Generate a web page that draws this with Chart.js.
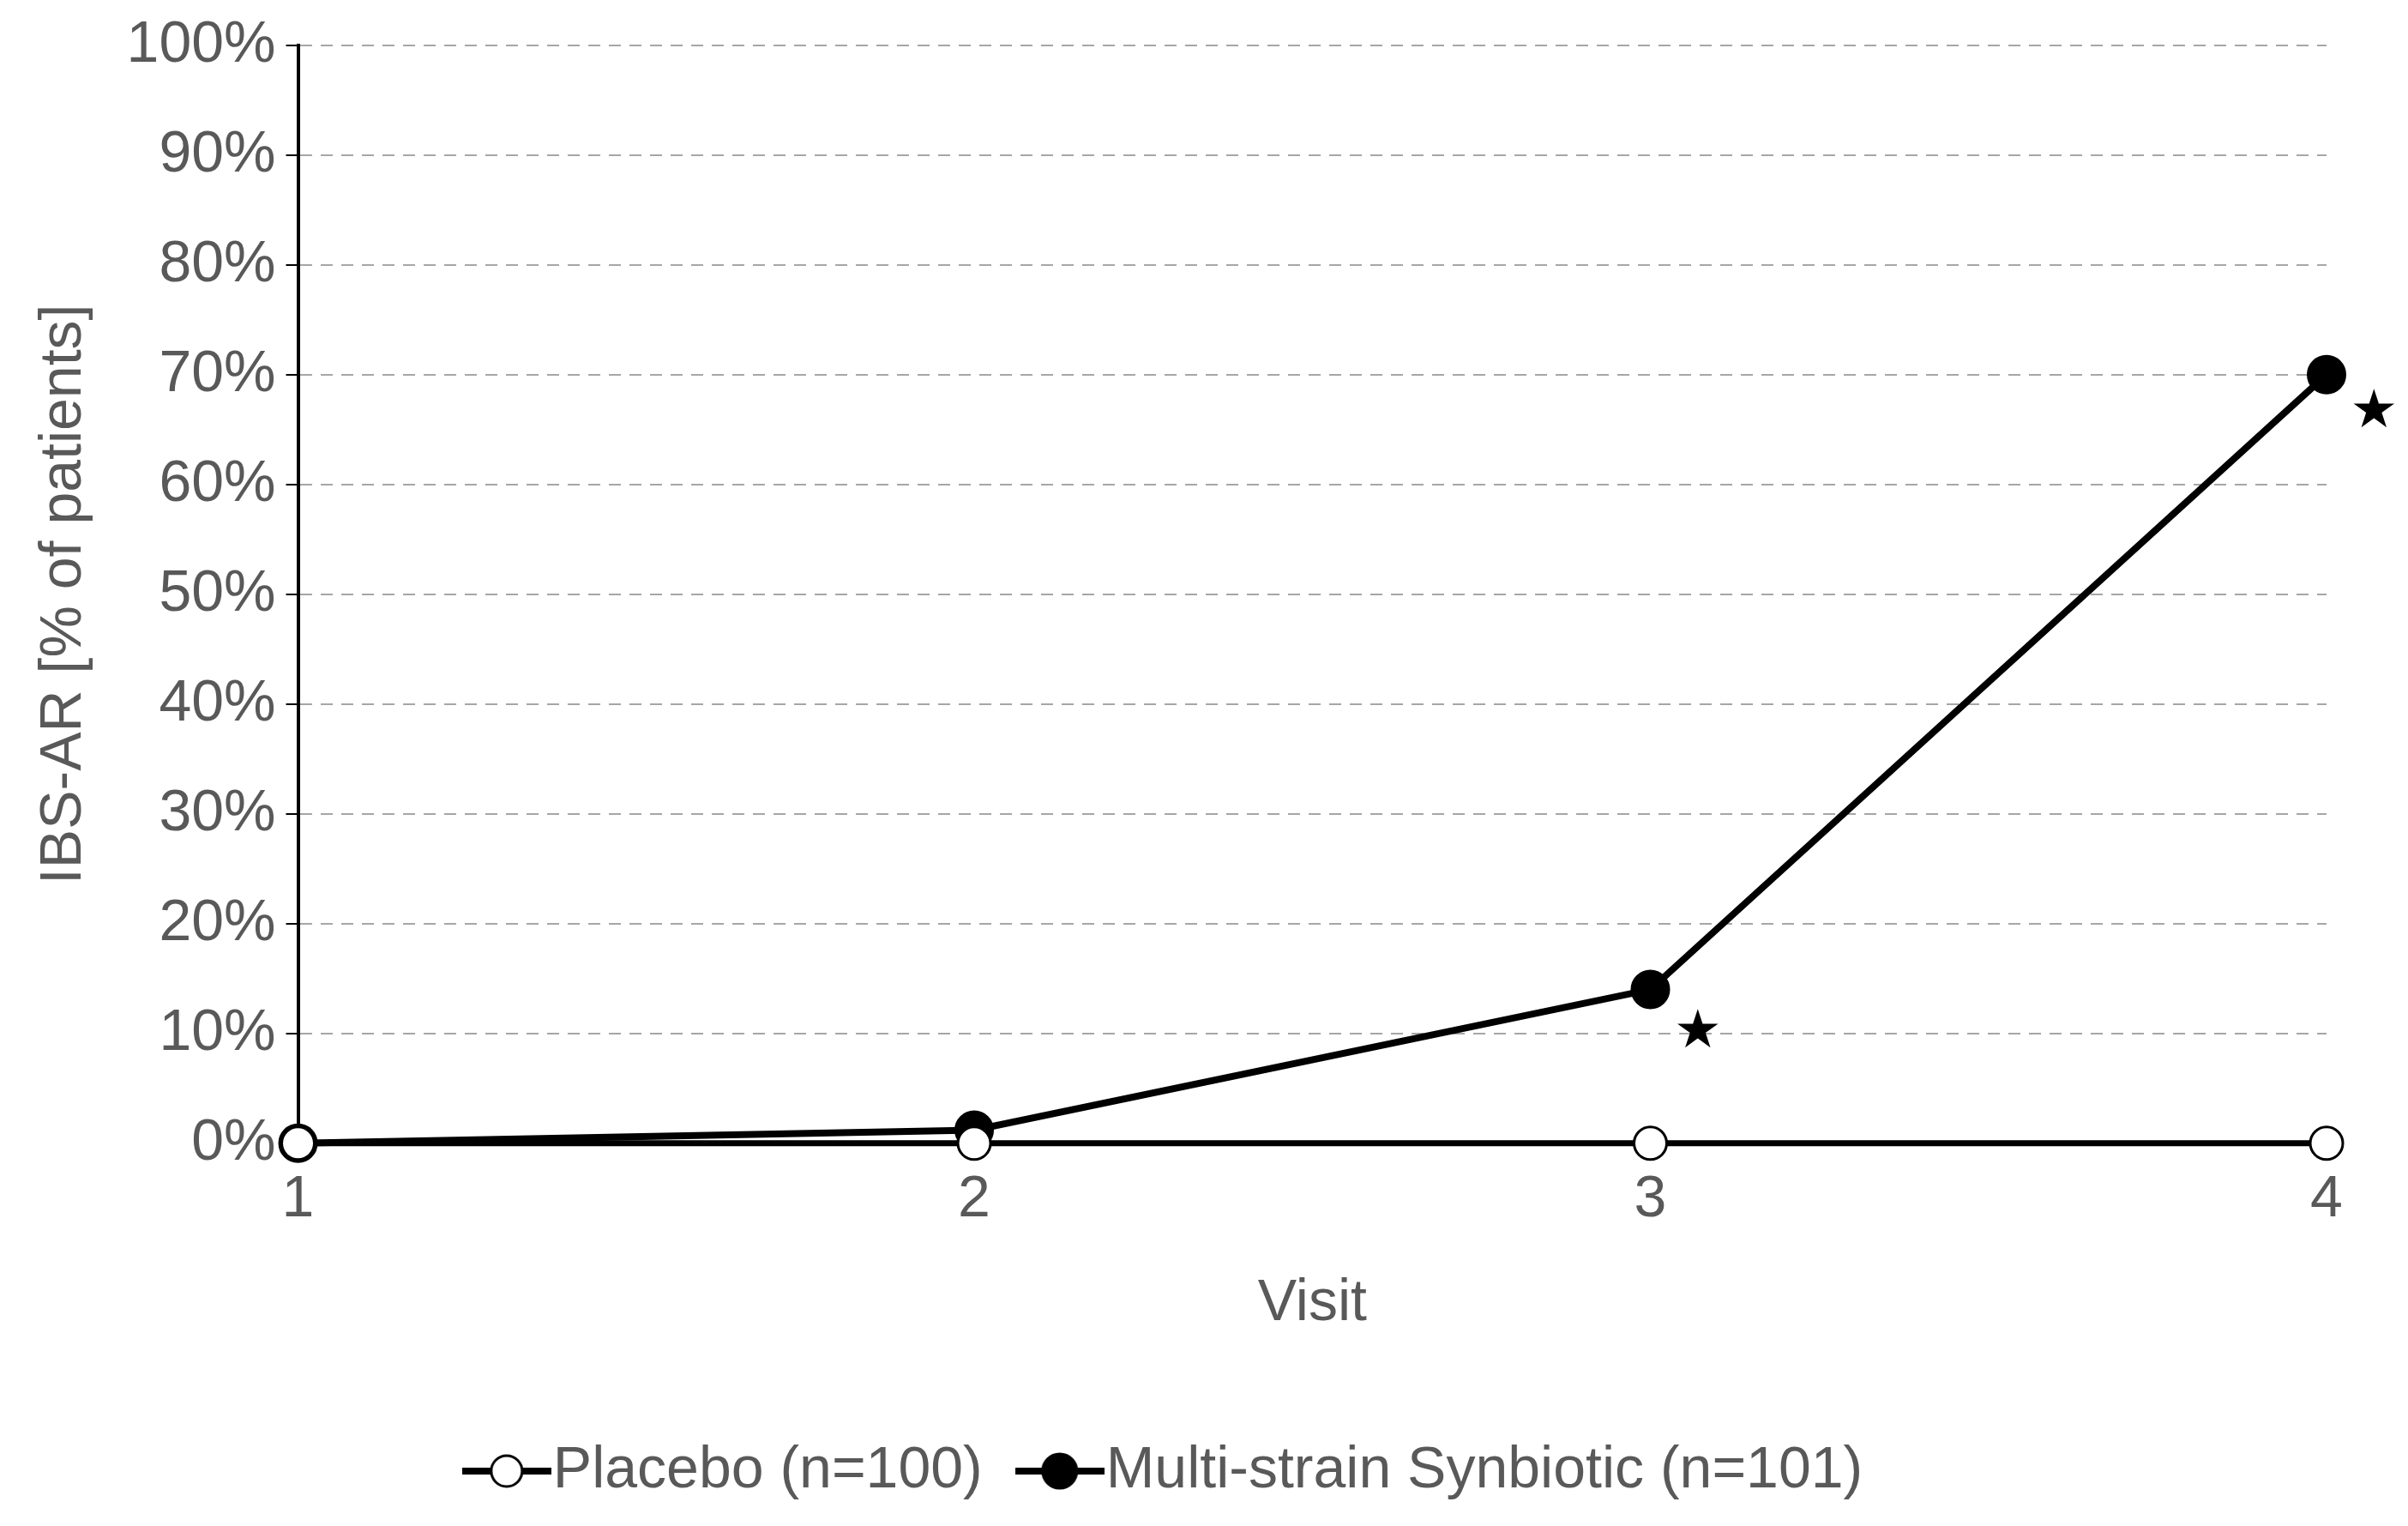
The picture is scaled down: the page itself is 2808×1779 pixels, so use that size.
<!DOCTYPE html>
<html><head><meta charset="utf-8">
<script src="https://cdn.jsdelivr.net/npm/chart.js@4"></script>
<style>html,body{margin:0;padding:0;background:#fff}#w{width:2808px;height:1779px}</style>
</head><body><div id="w"><canvas id="c"></canvas></div>
<script>
const visits = [1, 2, 3, 4];
const placebo = [0, 0, 0, 0];
const synbiotic = [0, 1.2, 14, 70];
const starX = [3.07, 4.07];
const starY = [10, 66.5];
const yTicks = [0,10,20,30,40,50,60,70,80,90,100];
const gray = '#595959';
const font = {family: 'Liberation Sans, Arial, sans-serif', size: 68};

function legendIcon(filled){
  const cv = document.createElement('canvas'); cv.width = 104; cv.height = 44;
  const g = cv.getContext('2d');
  g.strokeStyle = '#000'; g.lineWidth = 8;
  g.beginPath(); g.moveTo(0,22); g.lineTo(104,22); g.stroke();
  g.beginPath(); g.arc(52,22,filled?20:18,0,Math.PI*2);
  g.fillStyle = filled ? '#000' : '#fff'; g.fill();
  g.lineWidth = 3; g.stroke();
  return cv;
}
const stars = {
  id:'stars',
  afterDatasetsDraw(ch){
    const x = ch.scales.x, y = ch.scales.y, c = ch.ctx;
    c.save(); c.fillStyle='#000'; c.font='62px DejaVu Sans'; c.textAlign='center'; c.textBaseline='middle';
    for(let i=0;i<starX.length;i++) c.fillText('★', x.getPixelForValue(starX[i]), y.getPixelForValue(starY[i]));
    c.restore();
  }
};
new Chart(document.getElementById('c'), {
  type:'line',
  data:{datasets:[
    {label:'Placebo (n=100)', data:visits.map((v,i)=>({x:v,y:placebo[i]})), borderColor:'#000', borderWidth:7, clip:false,
     pointRadius:19, pointBackgroundColor:'#fff', pointBorderColor:'#000', pointBorderWidth:3, pointStyle:'circle'},
    {label:'Multi-strain Synbiotic (n=101)', data:visits.map((v,i)=>({x:v,y:synbiotic[i]})), borderColor:'#000', borderWidth:8, clip:false,
     pointRadius:22, pointBackgroundColor:'#000', pointBorderColor:'#000', pointBorderWidth:2}
  ]},
  options:{
    responsive:true, maintainAspectRatio:false, animation:false,
    layout:{padding:{left:30,right:95,top:30,bottom:20}},
    plugins:{
      tooltip:{enabled:false},
      legend:{position:'bottom', labels:{usePointStyle:true, font, color:gray, padding:70,
        generateLabels(ch){return ch.data.datasets.map((d,i)=>({text:d.label, fontColor:gray, pointStyle:legendIcon(i===1), datasetIndex:i, lineWidth:0, strokeStyle:'rgba(0,0,0,0)', fillStyle:'rgba(0,0,0,0)'}));}}}
    },
    scales:{
      x:{type:'linear', min:1, max:4, afterBuildTicks(s){s.ticks=visits.map(v=>({value:v}));},
        ticks:{font, color:gray, padding:14},
        grid:{display:false, tickLength:12, tickColor:'#000'},
        border:{color:'#000', width:4},
        title:{display:true, text:'Visit', font, color:gray, padding:{top:25,bottom:50}}},
      y:{min:0, max:100, afterBuildTicks(s){s.ticks=yTicks.map(v=>({value:v}));},
        ticks:{font, color:gray, callback:v=>v+'%', padding:12},
        grid:{color:(ctx)=>ctx.tick && ctx.tick.value===0 ? 'rgba(0,0,0,0)' : '#a6a6a6', lineWidth:2, tickLength:14, tickColor:'#000', tickBorderDash:[]},
        border:{color:'#000', width:4, dash:[14,10]},
        title:{display:true, text:'IBS-AR [% of patients]', font, color:gray, padding:{bottom:20}}}
    }
  },
  plugins:[stars]
});
</script>
</body></html>
